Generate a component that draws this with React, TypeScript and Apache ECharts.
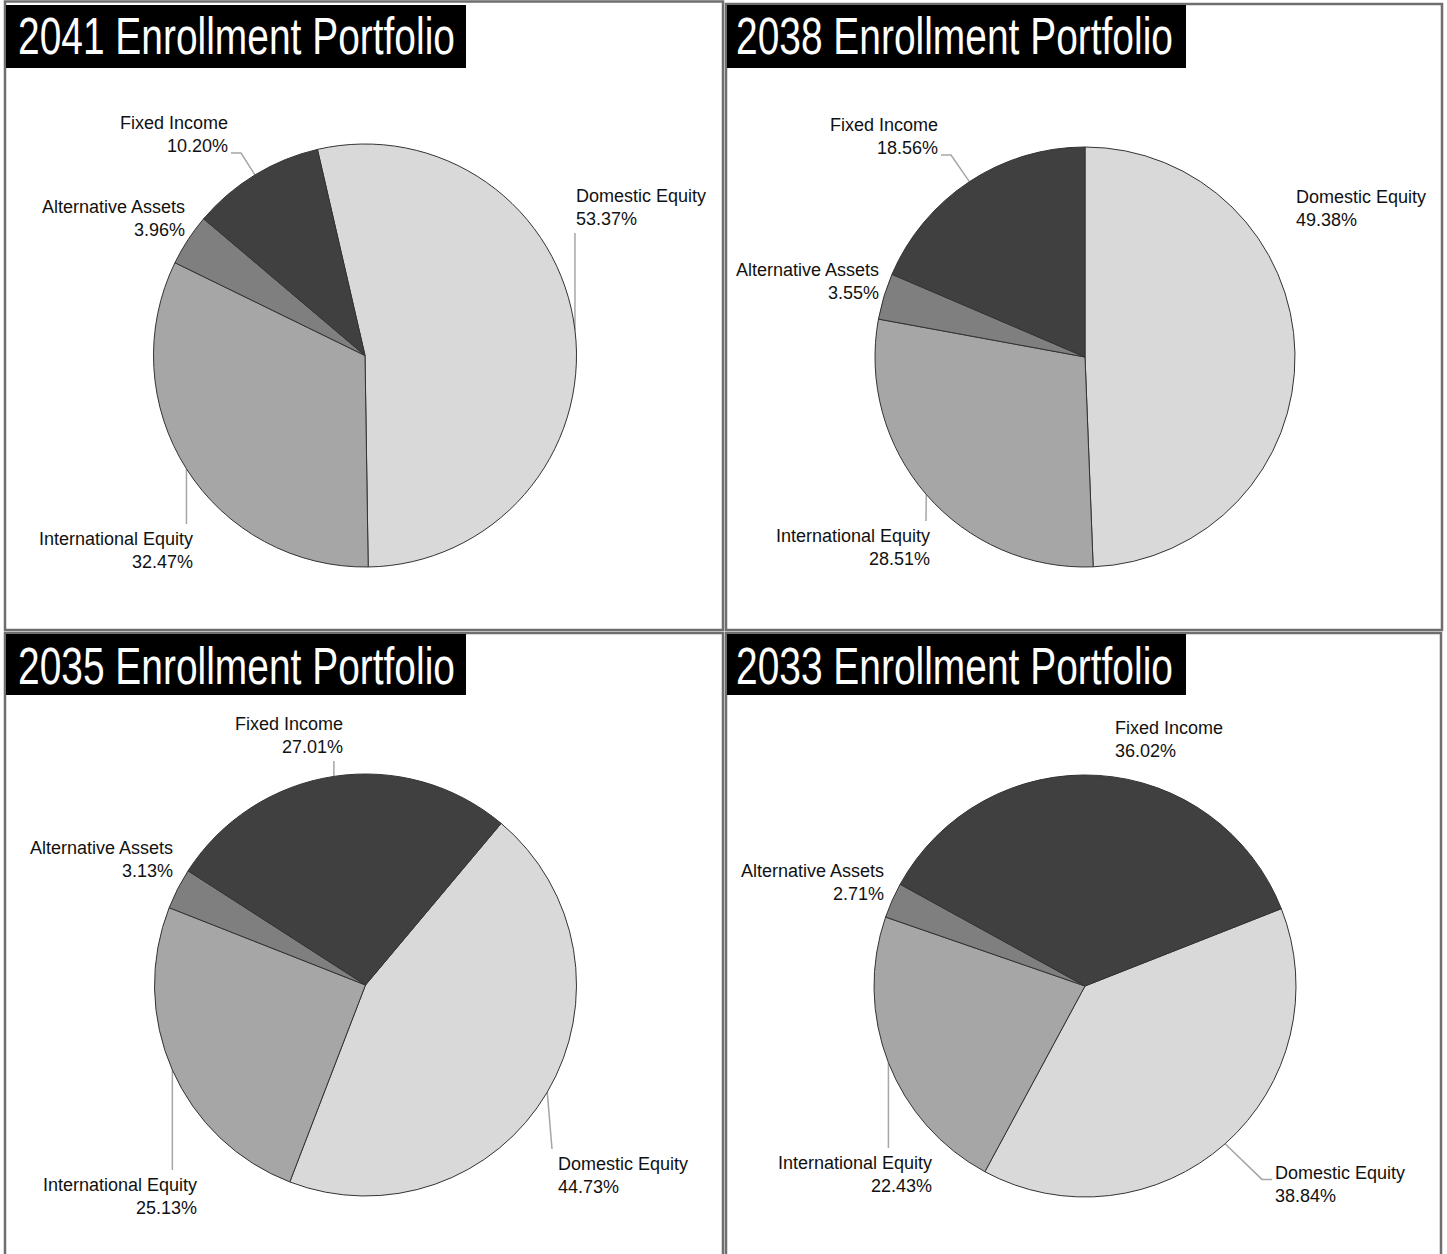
import React, { useEffect, useRef } from "react";
import * as echarts from "echarts";

// ---------- data ----------
const categories = ["Domestic Equity", "International Equity", "Alternative Assets", "Fixed Income"];
const portfolioTitles = [
  "2041 Enrollment Portfolio",
  "2038 Enrollment Portfolio",
  "2035 Enrollment Portfolio",
  "2033 Enrollment Portfolio",
];
const values2041 = [53.37, 32.47, 3.96, 10.2];
const values2038 = [49.38, 28.51, 3.55, 18.56];
const values2035 = [44.73, 25.13, 3.13, 27.01];
const values2033 = [38.84, 22.43, 2.71, 36.02];

// ---------- styles / layout ----------
const sliceColors = ["#d9d9d9", "#a6a6a6", "#7f7f7f", "#404040"];
const LABEL_FONT = "'Liberation Sans', Arial, sans-serif";
const TITLE_FONT = "'Liberation Sans', Arial, sans-serif";

type LabelCfg = { x: number; y: number; align: "left" | "right"; line: boolean };
type Panel = {
  values: number[];
  title: string;
  box: [number, number, number, number];
  titleBox: [number, number, number, number];
  titleX: number;
  titleY: number;
  center: [number, number];
  radius: number;
  startAngle: number;
  labels: LabelCfg[]; // order matches categories
};

const panels: Panel[] = [
  {
    values: values2041,
    title: portfolioTitles[0],
    box: [5, 1.5, 718, 628.5],
    titleBox: [6, 5, 460, 63],
    titleX: 18,
    titleY: 36.5,
    center: [365, 355.5],
    radius: 211.5,
    startAngle: 103,
    labels: [
      { x: 576, y: 184, align: "left", line: true },
      { x: 193, y: 527, align: "right", line: true },
      { x: 185, y: 195, align: "right", line: false },
      { x: 228, y: 111, align: "right", line: true },
    ],
  },
  {
    values: values2038,
    title: portfolioTitles[1],
    box: [726, 4, 716, 626],
    titleBox: [727, 5, 459, 63],
    titleX: 736,
    titleY: 36.5,
    center: [1085, 357],
    radius: 210,
    startAngle: 90,
    labels: [
      { x: 1296, y: 185, align: "left", line: false },
      { x: 930, y: 524, align: "right", line: true },
      { x: 879, y: 258, align: "right", line: false },
      { x: 938, y: 113, align: "right", line: true },
    ],
  },
  {
    values: values2035,
    title: portfolioTitles[2],
    box: [5, 633, 718, 640],
    titleBox: [6, 634, 460, 61],
    titleX: 18,
    titleY: 666.5,
    center: [365.5, 985],
    radius: 211,
    startAngle: 50,
    labels: [
      { x: 558, y: 1152, align: "left", line: true },
      { x: 197, y: 1173, align: "right", line: true },
      { x: 173, y: 836, align: "right", line: false },
      { x: 343, y: 712, align: "right", line: true },
    ],
  },
  {
    values: values2033,
    title: portfolioTitles[3],
    box: [726, 633, 715, 640],
    titleBox: [727, 634, 459, 61],
    titleX: 736,
    titleY: 666.5,
    center: [1085, 986],
    radius: 211,
    startAngle: 21.5,
    labels: [
      { x: 1275, y: 1161, align: "left", line: true },
      { x: 932, y: 1151, align: "right", line: true },
      { x: 884, y: 859, align: "right", line: false },
      { x: 1115, y: 716, align: "left", line: false },
    ],
  },
];

function leaderPoints(start: number[], box: { x0: number; x1: number; y0: number; y1: number }) {
  const [sx, sy] = start;
  const h = box.y1 - box.y0;
  const outsideV = sy < box.y0 || sy > box.y1;
  if (outsideV && sx >= box.x0 - 20 && sx <= box.x1 + 20) {
    const ex = Math.min(Math.max(sx, box.x0 - 6), box.x1 - 4);
    const ey = sy > box.y1 ? box.y1 + 3 : box.y0 - 3;
    return [[sx, sy], [ex, ey]];
  }
  const ey = Math.min(Math.max(sy, box.y0 + h * 0.4), box.y1 - 4);
  if (sx > box.x1) {
    const ex = box.x1 + 3;
    return [[sx, sy], [ex + 10, ey], [ex, ey]];
  }
  const ex = box.x0 - 3;
  return [[sx, sy], [ex - 10, ey], [ex, ey]];
}

function buildOption() {
  const graphics: any[] = [];
  panels.forEach((p) => {
    graphics.push({
      type: "rect",
      shape: { x: p.box[0], y: p.box[1], width: p.box[2], height: p.box[3] },
      style: { fill: "#fff", stroke: "#6e6e6e", lineWidth: 2.5 },
      z: 0,
    });
    graphics.push({
      type: "rect",
      shape: { x: p.titleBox[0], y: p.titleBox[1], width: p.titleBox[2], height: p.titleBox[3] },
      style: { fill: "#000" },
      z: 1,
    });
    graphics.push({
      type: "text",
      x: p.titleX,
      y: p.titleY,
      scaleX: 0.763,
      z: 2,
      style: {
        text: p.title,
        fill: "#fff",
        font: `51px ${TITLE_FONT}`,
        align: "left",
        verticalAlign: "middle",
      },
    });
  });

  const series = panels.map((p) => ({
    type: "pie",
    center: p.center,
    radius: p.radius,
    startAngle: p.startAngle,
    clockwise: true,
    avoidLabelOverlap: false,
    silent: true,
    z: 5,
    itemStyle: { borderColor: "#333", borderWidth: 1 },
    emphasis: { disabled: true },
    label: {
      show: true,
      position: "outside",
      color: "#111",
      fontFamily: LABEL_FONT,
      fontSize: 18,
      lineHeight: 23,
      formatter: (d: any) => `${d.name}\n${Number(d.value).toFixed(2)}%`,
    },
    labelLine: {
      show: true,
      length: 10,
      length2: 10,
      smooth: false,
      lineStyle: { color: "#a6a6a6", width: 1.5 },
    },
    labelLayout: (params: any) => {
      const cfg = p.labels[params.dataIndex];
      const w = params.labelRect.width;
      const h = params.labelRect.height;
      const x0 = cfg.align === "left" ? cfg.x : cfg.x - w;
      const box = { x0, x1: x0 + w, y0: cfg.y, y1: cfg.y + h };
      const res: any = { x: cfg.x, y: cfg.y, align: cfg.align, verticalAlign: "top" };
      if (cfg.line && params.labelLinePoints && params.labelLinePoints[0]) {
        res.labelLinePoints = leaderPoints(params.labelLinePoints[0], box);
      }
      return res;
    },
    data: categories.map((name, i) => ({
      name,
      value: p.values[i],
      itemStyle: { color: sliceColors[i] },
      labelLine: { show: p.labels[i].line },
    })),
  }));

  return {
    animation: false,
    backgroundColor: "#fff",
    graphic: { elements: graphics },
    series,
  };
}

export default function App() {
  const ref = useRef<HTMLDivElement>(null);
  useEffect(() => {
    document.body.style.margin = "0";
    if (!ref.current) return;
    const chart = echarts.init(ref.current, undefined, { renderer: "svg" });
    chart.setOption(buildOption() as any);
    return () => chart.dispose();
  }, []);
  return <div ref={ref} style={{ width: 1447, height: 1254 }} />;
}
